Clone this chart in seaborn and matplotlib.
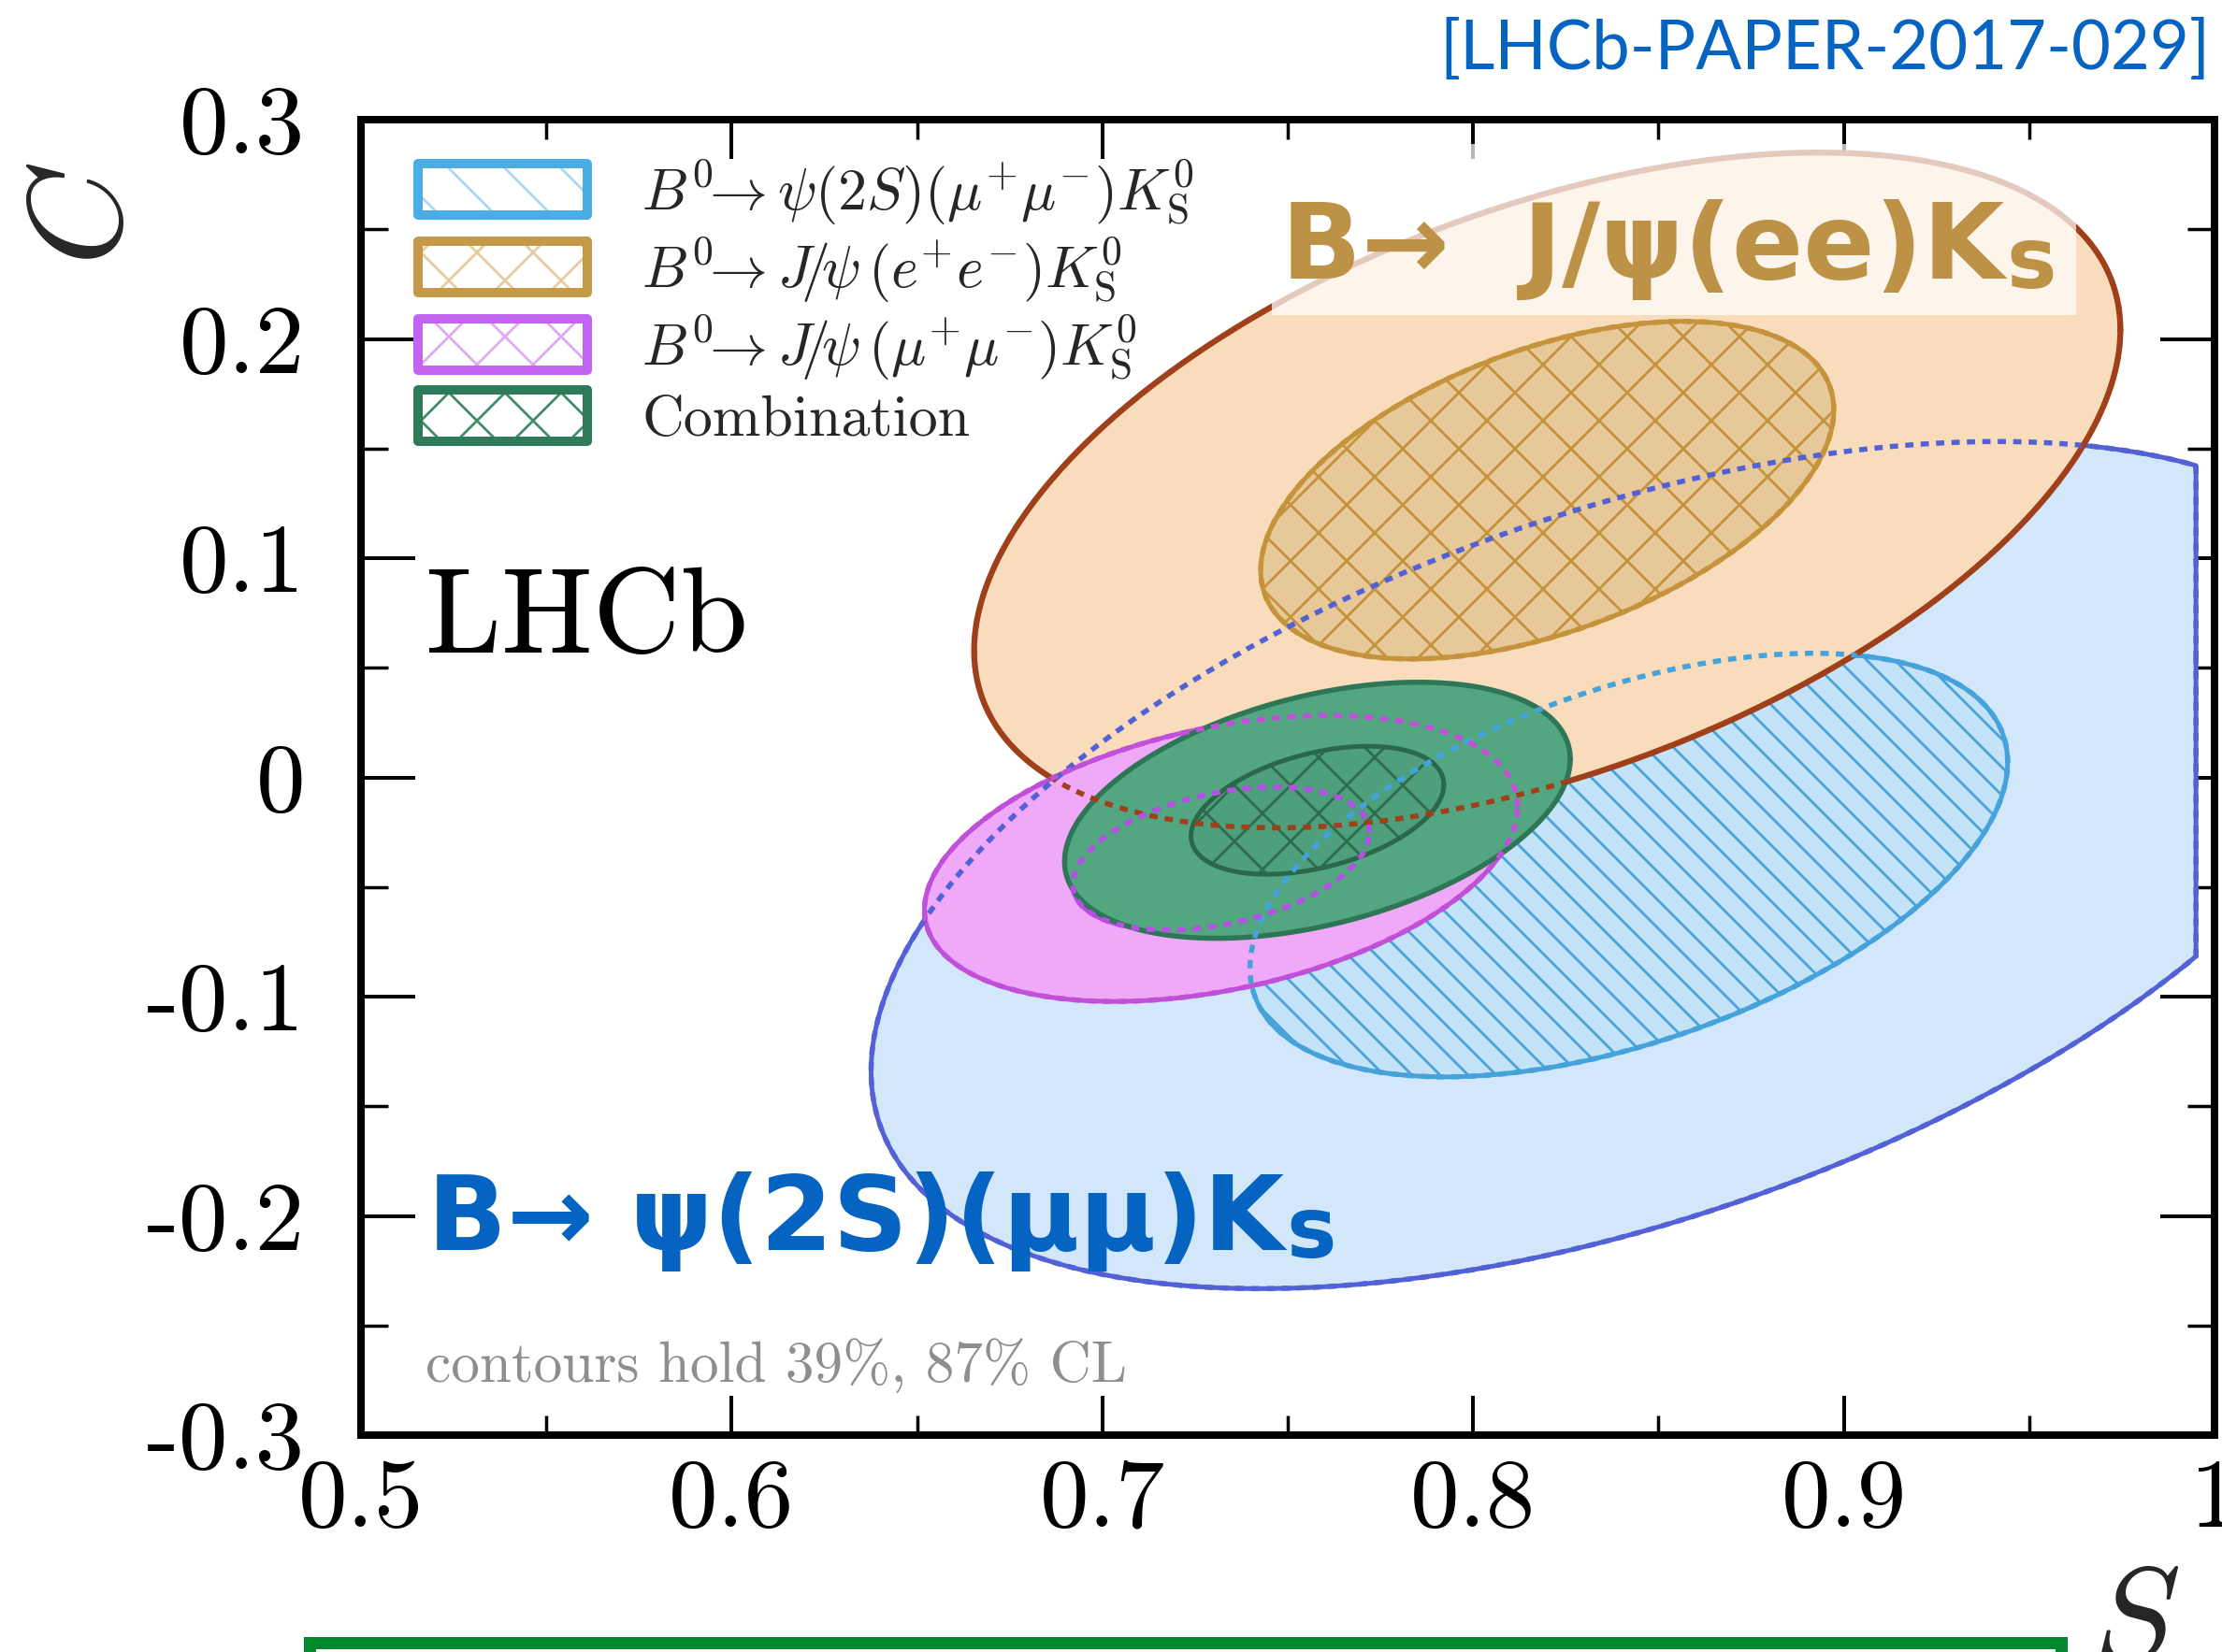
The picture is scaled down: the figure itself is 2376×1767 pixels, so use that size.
import numpy as np
import matplotlib
matplotlib.use("Agg")
import matplotlib.pyplot as plt
import seaborn as sns
from matplotlib.patches import Rectangle
from matplotlib.legend_handler import HandlerBase
from matplotlib.ticker import MultipleLocator

# (S, C) result of each decay mode: centre, 1 sigma half widths, correlation
modes = ["psi2S_mumu", "jpsi_ee", "jpsi_mumu", "combination"]
centre_s = [0.842, 0.820, 0.732, 0.758]
centre_c = [-0.040, 0.131, -0.037, -0.015]
width_s = [0.1022, 0.0773, 0.0400, 0.0341]
width_c = [0.0966, 0.0770, 0.0326, 0.0292]
rho = [0.486, 0.475, 0.36, 0.40]
s_max = [0.995, 1.0, 1.0, 1.0]
n_sigma = [2, 1]  # 87% and 39% CL contours

legend_labels = [
    r"$B^0\!\!\rightarrow\psi(2S)(\mu^{+}\mu^{-})K^0_\mathrm{S}$",
    r"$B^0\!\!\rightarrow J\!/\!\psi\,(e^{+}e^{-})K^0_\mathrm{S}$",
    r"$B^0\!\!\rightarrow J\!/\!\psi\,(\mu^{+}\mu^{-})K^0_\mathrm{S}$",
    "Combination",
]
x_ticks = [0.5, 0.6, 0.7, 0.8, 0.9, 1.0]
x_ticklabels = ["0.5", "0.6", "0.7", "0.8", "0.9", "1"]
y_ticks = [-0.3, -0.2, -0.1, 0.0, 0.1, 0.2, 0.3]
y_ticklabels = ["-0.3", "-0.2", "-0.1", "0", "0.1", "0.2", "0.3"]

# colours
outer_fill = ["#d3e7fa", "#f8dcbb", "#efa9f8", "#52a781"]
outer_edge = ["#5361d6", "#a0401a", "#c150d9", "#2f7656"]
outer_lw = [2.0, 2.5, 2.0, 2.2]
inner_fill = ["#c4e3f8", "#e7c899", "#efa9f8", "#4e9f7b"]
inner_hatch = ["#45a2da", "#c4933b", "#bf5ef0", "#2c6c4c"]
inner_edge = ["#45a2da", "#c4933b", "#b54fe6", "#2b6849"]
hatches = ["\\\\", "x", "xx", "x"]
legend_edge = ["#4aaee6", "#c49a48", "#c264f2", "#2f7a58"]
legend_hatch_colour = ["#a9d6f3", "#e4cc9c", "#e2a8f8", "#3f8c68"]
legend_hatch = ["\\", "x", "x", "x"]
gold = "#bd9246"
blue = "#0563c1"

DPI = 180


def ellipse(i, n, npts=400):
    t = np.linspace(0, 2 * np.pi, npts)
    s = centre_s[i] + n * width_s[i] * np.cos(t)
    c = centre_c[i] + n * width_c[i] * (rho[i] * np.cos(t) + np.sqrt(1 - rho[i] ** 2) * np.sin(t))
    return np.minimum(s, s_max[i]), c


class Swatch:
    def __init__(self, edge, hatch_colour, hatch):
        self.edge = edge
        self.hatch_colour = hatch_colour
        self.hatch = hatch


class SwatchHandler(HandlerBase):
    def create_artists(self, legend, orig, xdescent, ydescent, width, height, fontsize, trans):
        x0, y0 = -xdescent, -ydescent
        back = Rectangle((x0, y0), width, height, facecolor="white", edgecolor=orig.hatch_colour,
                         hatch=orig.hatch, lw=0, transform=trans)
        frame = Rectangle((x0, y0), width, height, facecolor="none", edgecolor=orig.edge,
                          lw=4, joinstyle="round", transform=trans)
        return [back, frame]


sns.set_theme(style="white", rc={
    "xtick.direction": "in", "ytick.direction": "in",
    "xtick.top": True, "ytick.right": True,
    "xtick.bottom": True, "ytick.left": True,
    "xtick.minor.visible": True, "ytick.minor.visible": True,
    "xtick.major.size": 16.8, "xtick.minor.size": 8.4,
    "ytick.major.size": 23.2, "ytick.minor.size": 11.6,
    "xtick.major.width": 1.6, "xtick.minor.width": 1.4,
    "ytick.major.width": 1.6, "ytick.minor.width": 1.4,
    "xtick.color": "black", "ytick.color": "black",
    "xtick.labelsize": 42, "ytick.labelsize": 42,
    "xtick.major.pad": 10, "ytick.major.pad": 24,
    "axes.edgecolor": "black", "axes.linewidth": 3.2,
})
plt.rcParams["font.family"] = ["cmr10", "DejaVu Serif"]
plt.rcParams["mathtext.fontset"] = "cm"
plt.rcParams["axes.unicode_minus"] = False
plt.rcParams["hatch.linewidth"] = 1.1

fig = plt.figure(figsize=(2376 / DPI, 1767 / DPI), dpi=DPI)
ax = fig.add_axes([386 / 2376, 1 - 1535 / 1767, (2368 - 386) / 2376, (1535 - 128) / 1767])

z = 1
for i in range(len(modes)):
    for n in n_sigma:
        s, c = ellipse(i, n)
        outer = n == 2
        ax.fill(s, c, color=outer_fill[i] if outer else inner_fill[i], lw=0, zorder=z)
        if not outer:
            ax.fill(s, c, facecolor="none", edgecolor=inner_hatch[i], hatch=hatches[i], lw=0, zorder=z)
        sns.lineplot(x=s, y=c, sort=False, estimator=None, ax=ax, zorder=z,
                     color=outer_edge[i] if outer else inner_edge[i],
                     linewidth=outer_lw[i] if outer else 2.0)
        z += 1

# parts of the contours hidden below other fills are shown dotted
for i in range(len(modes) - 1):
    for n in n_sigma:
        s, c = ellipse(i, n)
        sns.lineplot(x=s, y=c, sort=False, estimator=None, ax=ax, zorder=z,
                     color=outer_edge[i] if n == 2 else inner_edge[i],
                     linewidth=2.2, linestyle=(0, (1.6, 1.4)))

ax.set_xlim(0.5, 1.0)
ax.set_ylim(-0.3, 0.3)
ax.set_xticks(x_ticks, x_ticklabels)
ax.set_yticks(y_ticks, y_ticklabels)
ax.xaxis.set_minor_locator(MultipleLocator(0.05))
ax.yaxis.set_minor_locator(MultipleLocator(0.05))
ax.set_xlabel("")
ax.set_ylabel("")
for sp in ax.spines.values():
    sp.set_zorder(30)

handles = [Swatch(legend_edge[i], legend_hatch_colour[i], legend_hatch[i]) for i in range(len(modes))]
leg = ax.legend(handles, legend_labels, handler_map={Swatch: SwatchHandler()},
                loc="upper left", bbox_to_anchor=(0.0308, 0.9716), frameon=False,
                borderpad=0, borderaxespad=0, handlelength=2.92, handleheight=1.0,
                handletextpad=0.94, labelspacing=0.13, fontsize=24.8)
leg.set_zorder(25)

ax.text(0.5175, 0.0574, "LHCb", fontsize=52, color="black", zorder=25)
ax.text(0.5175, -0.2757, "contours hold 39%, 87% CL", fontsize=24.5, color="#8e8e8e", zorder=25)

label_font = ["DejaVu Sans"]
ax.add_patch(Rectangle((0.7457, 0.2109), 0.2170, 0.0780, facecolor="white", alpha=0.72, lw=0, zorder=20))
t_gold = ax.text(0.7482, 0.2275, "B\u2192  J/\u03c8(ee)K", color=gold, fontsize=45,
                 fontweight="bold", family=label_font, zorder=22)
t_blue = ax.text(0.5178, -0.2156, "B\u2192 \u03c8(2S)(\u03bc\u03bc)K", color=blue, fontsize=44.5,
                 fontweight="bold", family=label_font, zorder=22)

fig.text(87 / 2376, 1 - 225 / 1767, "C", family="cmmi10", fontsize=57, rotation=90,
         ha="center", va="center")
fig.text(2280 / 2376, 1 - 1677 / 1767, "S", family="cmmi10", fontsize=57, ha="center", va="top")
fig.text(2364 / 2376, 1 - 20 / 1767, "[LHCb-PAPER-2017-029]", family=["Lato", "DejaVu Sans"],
         fontsize=29, color=blue, ha="right", va="top")
fig.add_artist(Rectangle((330.5 / 2376, -0.05), (2203.5 - 330.5) / 2376, 0.05 + 10.5 / 1767,
                         transform=fig.transFigure, fill=False, edgecolor="#00892c", lw=5.2,
                         clip_on=False))

# subscript "s" after the bold labels
fig.canvas.draw()
renderer = fig.canvas.get_renderer()
for t, drop, gap in ((t_gold, 10, 2), (t_blue, 8, 3)):
    bb = t.get_window_extent(renderer)
    x0, y0 = ax.transData.transform(t.get_position())
    xs, ys = ax.transData.inverted().transform((bb.x1 + gap, y0 - drop))
    ax.text(xs, ys, "s", color=t.get_color(), fontsize=36, fontweight="bold",
            family=label_font, zorder=22)

fig.savefig("out.png", dpi=DPI)
